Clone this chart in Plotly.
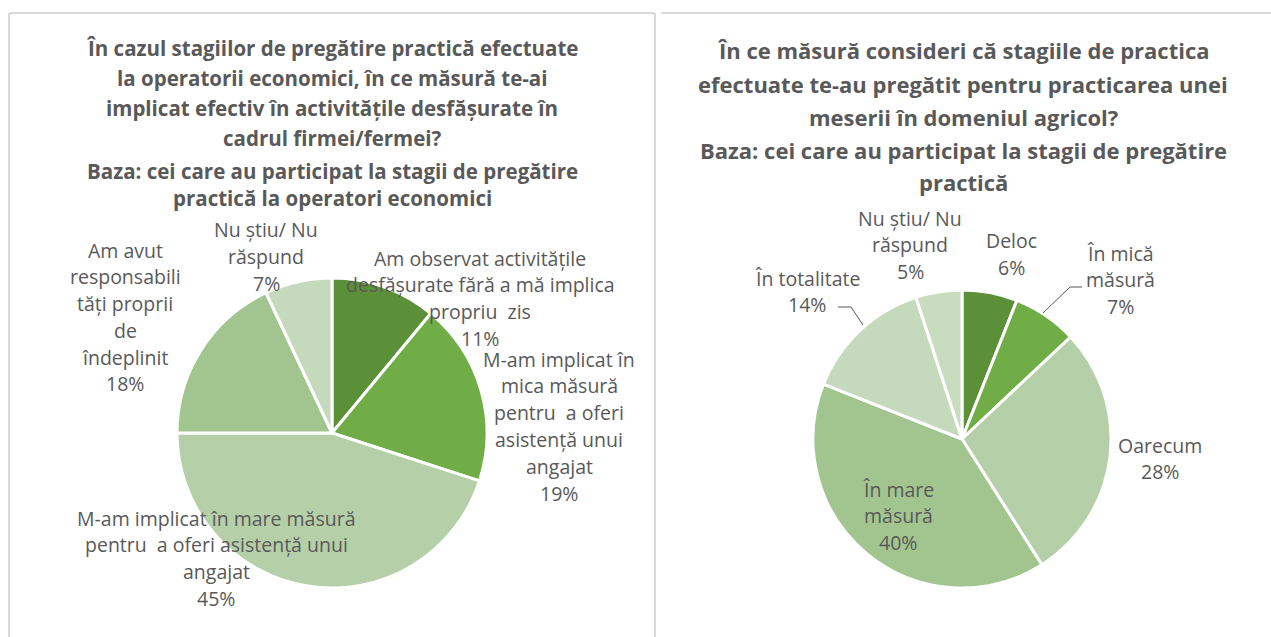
import plotly.graph_objects as go

W, H = 1271, 637

# ---------------- data ----------------
left_labels = [
    "Am observat activitățile desfășurate fără a mă implica propriu zis",
    "M-am implicat în mica măsură pentru a oferi asistență unui angajat",
    "M-am implicat în mare măsură pentru a oferi asistență unui angajat",
    "Am avut responsabilități proprii de îndeplinit",
    "Nu știu/ Nu răspund",
]
left_values = [11, 19, 45, 18, 7]

right_labels = ["Deloc", "În mică măsură", "Oarecum", "În mare măsură", "În totalitate", "Nu știu/ Nu răspund"]
right_values = [6, 7, 28, 40, 14, 5]

left_title = [
    "În cazul stagiilor de pregătire practică efectuate",
    "la operatorii economici, în ce măsură te-ai",
    "implicat efectiv în activitățile desfășurate în",
    "cadrul firmei/fermei?",
    "Baza: cei care au participat la stagii de pregătire",
    "practică la operatori economici",
]
right_title = [
    "În ce măsură consideri că stagiile de practica",
    "efectuate te-au pregătit pentru practicarea unei",
    "meserii în domeniul agricol?",
    "Baza: cei care au participat la stagii de pregătire",
    "practică",
]

# label line breaks (display text, Excel style)
left_label_lines = [
    ["Am observat activitățile", "desfășurate fără a mă implica", "propriu  zis"],
    ["M-am implicat în", "mica măsură", "pentru  a oferi", "asistență unui", "angajat"],
    ["M-am implicat în mare măsură", "pentru  a oferi asistență unui", "angajat"],
    ["Am avut", "responsabili", "tăți proprii", "de", "îndeplinit"],
    ["Nu știu/ Nu", "răspund"],
]
right_label_lines = [
    ["Deloc"],
    ["În mică", "măsură"],
    ["Oarecum"],
    ["În mare", "măsură"],
    ["În totalitate"],
    ["Nu știu/ Nu", "răspund"],
]

# ---------------- styles / positions (pixels) ----------------
FONT = "Open Sans"
TXT = "#595959"
left_colors = ["#5B8F38", "#70AD47", "#B5D0A8", "#A2C590", "#C5DABC"]
right_colors = ["#5B8F38", "#70AD47", "#B5D0A8", "#A2C590", "#C5DABC", "#C8DCC0"]

left_pie_box = (177, 278, 487, 588)     # x0, y0, x1, y1
right_pie_box = (813, 290, 1111, 588)

left_label_pos = [(480, 258), (559, 359), (216, 518), (125, 250), (266, 230)]
right_label_pos = [(1011, 241), (1120, 253), (1160, 445), (898, 489), (807, 278), (910, 218)]
LINE_H = 26.8

left_title_pos = (332, [48, 78, 108, 138, 171, 198])
right_title_pos = (963, [50, 84, 117, 150, 182])

TITLE_L_SIZE = 20.5
TITLE_R_SIZE = 22
LABEL_SIZE = 19.5


def px(x):
    return x / W


def py(y):
    return 1 - y / H


fig = go.Figure()

for vals, labs, cols, box in [
    (left_values, left_labels, left_colors, left_pie_box),
    (right_values, right_labels, right_colors, right_pie_box),
]:
    x0, y0, x1, y1 = box
    fig.add_trace(go.Pie(
        values=vals, labels=labs, sort=False, direction="clockwise", rotation=0,
        marker=dict(colors=cols, line=dict(color="white", width=3)),
        textinfo="none", showlegend=False,
        domain=dict(x=[px(x0), px(x1)], y=[py(y1), py(y0)]),
        hovertemplate="%{label}: %{value}%<extra></extra>",
    ))

annotations = []


def add_text(x, y, text, size, bold=False):
    annotations.append(dict(
        x=px(x), y=py(y), xref="paper", yref="paper", showarrow=False,
        text=f"<b>{text}</b>" if bold else text,
        font=dict(family=FONT, size=size, color=TXT),
        xanchor="center", yanchor="middle",
    ))


cx, ys = left_title_pos
for line, y in zip(left_title, ys):
    add_text(cx, y, line, TITLE_L_SIZE, bold=True)
cx, ys = right_title_pos
for line, y in zip(right_title, ys):
    add_text(cx, y, line, TITLE_R_SIZE, bold=True)

for lines, val, (x, y) in zip(left_label_lines, left_values, left_label_pos):
    for i, t in enumerate(lines + [f"{val}%"]):
        add_text(x, y + i * LINE_H, t, LABEL_SIZE)
for lines, val, (x, y) in zip(right_label_lines, right_values, right_label_pos):
    for i, t in enumerate(lines + [f"{val}%"]):
        add_text(x, y + i * LINE_H, t, LABEL_SIZE)

shapes = []
border = dict(color="#D9D9D9", width=2)
# panel borders
shapes.append(dict(type="line", xref="paper", yref="paper", x0=px(9), x1=px(9), y0=py(13), y1=py(640), line=border))
shapes.append(dict(type="line", xref="paper", yref="paper", x0=px(9), x1=px(655), y0=py(13), y1=py(13), line=border))
shapes.append(dict(type="line", xref="paper", yref="paper", x0=px(655), x1=px(655), y0=py(13), y1=py(640), line=border))
shapes.append(dict(type="line", xref="paper", yref="paper", x0=px(661), x1=px(1275), y0=py(13), y1=py(13), line=border))

# leader lines
lead = dict(color="#595959", width=1)
shapes.append(dict(type="path", xref="paper", yref="paper",
                   path=f"M {px(1043)} {py(313)} L {px(1070)} {py(287)} L {px(1082)} {py(287)}", line=lead))
shapes.append(dict(type="path", xref="paper", yref="paper",
                   path=f"M {px(838)} {py(307)} L {px(851)} {py(307)} L {px(863)} {py(325)}", line=lead))

fig.update_layout(
    width=W, height=H, margin=dict(l=0, r=0, t=0, b=0),
    paper_bgcolor="white", plot_bgcolor="white",
    annotations=annotations, shapes=shapes,
)

fig.write_html("out.html", config={"displayModeBar": False},
               post_script="document.body.style.margin='0px';")
